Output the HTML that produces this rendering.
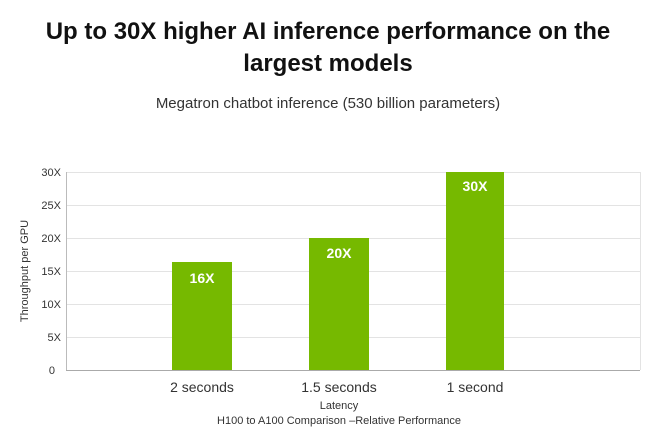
<!DOCTYPE html>
<html><head><style>
body{margin:0;background:#fff;}
</style></head><body>
<svg width="657" height="442" xmlns="http://www.w3.org/2000/svg" font-family="'Liberation Sans', 'DejaVu Sans', sans-serif">
<rect width="657" height="442" fill="#fff"/>
<text x="328" y="39" text-anchor="middle" font-size="24" font-weight="bold" fill="#111">Up to 30X higher AI inference performance on the</text>
<text x="328" y="71" text-anchor="middle" font-size="24" font-weight="bold" fill="#111">largest models</text>
<text x="328" y="108" text-anchor="middle" font-size="15" fill="#333">Megatron chatbot inference (530 billion parameters)</text>
<g stroke="#e3e3e3" stroke-width="1">
<line x1="66" x2="640" y1="172.5" y2="172.5"/>
<line x1="66" x2="640" y1="205.5" y2="205.5"/>
<line x1="66" x2="640" y1="238.5" y2="238.5"/>
<line x1="66" x2="640" y1="271.5" y2="271.5"/>
<line x1="66" x2="640" y1="304.5" y2="304.5"/>
<line x1="66" x2="640" y1="337.5" y2="337.5"/>
<line x1="640.5" x2="640.5" y1="172" y2="370"/>
</g>
<line x1="66.5" x2="66.5" y1="172" y2="370" stroke="#bbb"/>
<line x1="66" x2="640" y1="370.5" y2="370.5" stroke="#aaa"/>
<g font-size="11" fill="#333" text-anchor="end">
<text x="61" y="176">30X</text><text x="61" y="209">25X</text><text x="61" y="242">20X</text>
<text x="61" y="275">15X</text><text x="61" y="308">10X</text><text x="61" y="341">5X</text><text x="55" y="374">0</text>
</g>
<text transform="translate(28,271) rotate(-90)" text-anchor="middle" font-size="11" fill="#333">Throughput per GPU</text>
<g fill="#76b900">
<rect x="172" y="262" width="60" height="108"/>
<rect x="309" y="238" width="60" height="132"/>
<rect x="446" y="172" width="58" height="198"/>
</g>
<g fill="#fff" font-size="14" font-weight="bold" text-anchor="middle">
<text x="202" y="283">16X</text><text x="339" y="258">20X</text><text x="475" y="191">30X</text>
</g>
<g fill="#333" font-size="14" text-anchor="middle">
<text x="202" y="392">2 seconds</text><text x="339" y="392">1.5 seconds</text><text x="475" y="392">1 second</text>
</g>
<text x="339" y="409" text-anchor="middle" font-size="11" fill="#333">Latency</text>
<text x="339" y="424" text-anchor="middle" font-size="11" fill="#333">H100 to A100 Comparison –Relative Performance</text>
</svg>
</body></html>
